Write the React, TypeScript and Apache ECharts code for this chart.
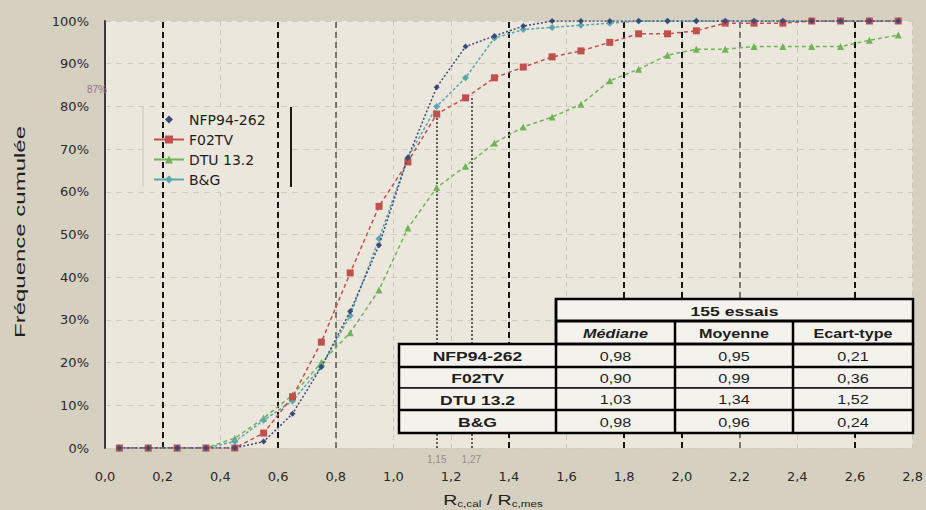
import React, { useEffect, useRef } from "react";
import * as echarts from "echarts";

// ---- data ----
const xCenters = [0.05, 0.15, 0.25, 0.35, 0.45, 0.55, 0.65, 0.75, 0.85, 0.95, 1.05, 1.15, 1.25, 1.35, 1.45, 1.55, 1.65, 1.75, 1.85, 1.95, 2.05, 2.15, 2.25, 2.35, 2.45, 2.55, 2.65, 2.75];
const nfpValues = [0, 0, 0, 0, 0, 1.5, 8, 19, 32, 47.5, 68, 84.5, 94, 96.5, 98.8, 100, 100, 100, 100, 100, 100, 100, 100, 100, 100, 100, 100, 100];
const f02tvValues = [0, 0, 0, 0, 0, 3.5, 12, 24.8, 41, 56.6, 67, 78.2, 82, 86.7, 89.2, 91.6, 93, 95, 97, 97, 97.7, 99.5, 99.5, 99.5, 100, 100, 100, 100];
const dtuValues = [0, 0, 0, 0, 2.3, 7, 12.4, 20, 27, 37, 51.5, 61, 66, 71.4, 75.2, 77.5, 80.5, 86, 88.7, 92, 93.4, 93.4, 94, 94, 94, 94, 95.5, 96.7];
const bgValues = [0, 0, 0, 0, 1.5, 6.5, 11, 19, 31, 49, 68, 80, 86.7, 96, 98, 98.5, 99, 99.5, 100, 100, 100, 100, 100, 100, 100, 100, 100, 100];
const seriesNames = ["NFP94-262", "F02TV", "DTU 13.2", "B&G"];

const heavyRefLines = [0.2, 0.6, 1.4, 1.8, 2.0, 2.6];
const mediumRefLines = [0.8, 2.2];
const readOffX = [1.15, 1.27];
const readOffY = [78.2, 82.5];
const readOffLabels = ["1,15", "1,27"];
const highlightLabel = "87%";
const yTitle = "Fréquence cumulée";

const tableTitle = "155 essais";
const tableCols = ["Médiane", "Moyenne", "Ecart-type"];
const tableRows = ["NFP94-262", "F02TV", "DTU 13.2", "B&G"];
const medianes = ["0,98", "0,90", "1,03", "0,98"];
const moyennes = ["0,95", "0,99", "1,34", "0,96"];
const ecartTypes = ["0,21", "0,36", "1,52", "0,24"];

const FONT = "'Liberation Sans', Arial, sans-serif";
const WIDE = "'DejaVu Sans', Verdana, sans-serif";
const PLOT_BG = "#ece7dd";

function buildTable(): any[] {
  const colX = [399, 556, 675, 793, 913];
  const yT = 299;
  const yHdr = 321;
  const rowY = [344, 367, 388, 410, 433];
  const fill = "#f4f2ed";
  const els: any[] = [];
  const cell = (x0: number, y0: number, x1: number, y1: number, text: string, font: any, lw = 1.5) => {
    els.push({ type: "rect", shape: { x: x0, y: y0, width: x1 - x0, height: y1 - y0 }, style: { fill, stroke: "#111", lineWidth: lw }, z: 10 });
    els.push({
      type: "text",
      x: (x0 + x1) / 2,
      y: (y0 + y1) / 2 + 1,
      scaleX: 1.35,
      style: { text, align: "center", verticalAlign: "middle", fill: "#1e1e1e", fontFamily: FONT, ...font },
      z: 11,
    });
  };
  cell(colX[1], yT, colX[4], yHdr, tableTitle, { fontSize: 13, fontWeight: "bold" });
  tableCols.forEach((c, i) =>
    cell(colX[i + 1], yHdr, colX[i + 2], rowY[0], c, { fontSize: 12, fontStyle: i === 0 ? "italic" : "normal", fontWeight: "bold" })
  );
  const cols = [medianes, moyennes, ecartTypes];
  tableRows.forEach((r, ri) => {
    cell(colX[0], rowY[ri], colX[1], rowY[ri + 1], r, { fontSize: 13, fontWeight: "bold" });
    cols.forEach((col, ci) => cell(colX[ci + 1], rowY[ri], colX[ci + 2], rowY[ri + 1], col[ri], { fontSize: 12 }));
  });
  els.push({ type: "rect", shape: { x: colX[1], y: yT, width: colX[4] - colX[1], height: rowY[0] - yT }, style: { fill: "none", stroke: "#000", lineWidth: 2.5 }, z: 12 });
  els.push({ type: "rect", shape: { x: colX[0], y: rowY[0], width: colX[4] - colX[0], height: rowY[4] - rowY[0] }, style: { fill: "none", stroke: "#000", lineWidth: 2.5 }, z: 12 });
  els.push({ type: "line", shape: { x1: colX[1], y1: yHdr, x2: colX[4], y2: yHdr }, style: { stroke: "#000", lineWidth: 3 }, z: 12 });
  els.push({ type: "line", shape: { x1: colX[0], y1: rowY[1], x2: colX[4], y2: rowY[1] }, style: { stroke: "#000", lineWidth: 2.5 }, z: 12 });
  els.push({ type: "line", shape: { x1: colX[0], y1: rowY[3], x2: colX[4], y2: rowY[3] }, style: { stroke: "#000", lineWidth: 2.5 }, z: 12 });
  [1, 2, 3].forEach((c) =>
    els.push({ type: "line", shape: { x1: colX[c], y1: c === 1 ? yT : yHdr, x2: colX[c], y2: rowY[4] }, style: { stroke: "#000", lineWidth: 2.5 }, z: 12 })
  );
  return els;
}

export default function App() {
  const ref = useRef<HTMLDivElement>(null);
  useEffect(() => {
    document.body.style.margin = "0";
    const chart = echarts.init(ref.current!, null, { renderer: "svg" });
    const mk = (vals: number[]) => xCenters.map((x, i) => [x, vals[i]]);
    const lineBase = { type: "line", showSymbol: true, z: 5 };
    const option: any = {
      animation: false,
      backgroundColor: "#d6d0c1",
      grid: { left: 105, right: 13, top: 21, bottom: 62, show: true, backgroundColor: PLOT_BG, borderWidth: 0 },
      legend: {
        orient: "vertical",
        left: 153,
        top: 112,
        padding: 0,
        itemWidth: 30,
        itemHeight: 10,
        itemGap: 5,
        z: 6,
        textStyle: { fontSize: 14, lineHeight: 15, color: "#1e1e1e", fontFamily: WIDE },
        lineStyle: { type: "solid" },
        data: [
          { name: seriesNames[0], lineStyle: { opacity: 0 } },
          { name: seriesNames[1] },
          { name: seriesNames[2] },
          { name: seriesNames[3] },
        ],
      },
      xAxis: {
        type: "value",
        min: 0,
        max: 2.8,
        interval: 0.2,
        axisLine: { show: false },
        axisTick: { show: false },
        axisLabel: { margin: 22, fontSize: 13, color: "#2a2a2a", fontFamily: WIDE, formatter: (v: number) => v.toFixed(1).replace(".", ",") },
        splitLine: { show: true, lineStyle: { color: "#cdc7bb", type: [5, 4], width: 1 } },
      },
      yAxis: {
        type: "value",
        min: 0,
        max: 100,
        interval: 10,
        axisLine: { show: true, lineStyle: { color: "#3a3a3a", width: 2 } },
        axisTick: { show: false },
        axisLabel: { margin: 16, fontSize: 13, color: "#2a2a2a", fontFamily: WIDE, formatter: (v: number) => v + "%" },
        splitLine: { show: true, lineStyle: { color: "#d2ccc0", type: [6, 5], width: 1 } },
      },
      series: [
        {
          type: "line",
          name: "refs",
          data: [],
          z: 2,
          silent: true,
          markLine: {
            silent: true,
            symbol: ["none", "none"],
            label: { show: false },
            lineStyle: { color: "#151515", width: 2, type: [6, 4] },
            data: [
              ...heavyRefLines.map((v) => ({ xAxis: v })),
              ...mediumRefLines.map((v) => ({ xAxis: v, lineStyle: { color: "#555", width: 1.5, type: [6, 4] } })),
              ...readOffX.map((v, i) => [
                {
                  coord: [v, 0],
                  lineStyle: { color: "#333", width: 1.5, type: [2, 2] },
                  label: { show: true, position: "start", formatter: readOffLabels[i], color: "#9a8a8e", fontSize: 10, fontFamily: FONT, distance: 6 },
                },
                { coord: [v, readOffY[i]] },
              ]),
            ],
          },
        },
        {
          ...lineBase,
          name: seriesNames[0],
          data: mk(nfpValues),
          symbol: "diamond",
          symbolSize: 6,
          itemStyle: { color: "#3d4a78" },
          lineStyle: { color: "#3d4a78", width: 1.5, type: [2, 2] },
          z: 8,
        },
        {
          ...lineBase,
          name: seriesNames[1],
          data: mk(f02tvValues),
          symbol: "rect",
          symbolSize: 7,
          itemStyle: { color: "#c0504d" },
          lineStyle: { color: "#c0504d", width: 1.5, type: [4, 3] },
          z: 7,
        },
        {
          ...lineBase,
          name: seriesNames[2],
          data: mk(dtuValues),
          symbol: "triangle",
          symbolSize: 7,
          itemStyle: { color: "#72b35a" },
          lineStyle: { color: "#72b35a", width: 1.5, type: [4, 3] },
          z: 6,
        },
        {
          ...lineBase,
          name: seriesNames[3],
          data: mk(bgValues),
          symbol: "diamond",
          symbolSize: 7,
          itemStyle: { color: "#5aa7ae" },
          lineStyle: { color: "#5aa7ae", width: 1.5, type: [3, 2] },
          z: 6,
        },
      ],
      graphic: [
        { type: "rect", shape: { x: 143, y: 107, width: 148, height: 80 }, style: { fill: PLOT_BG }, z: 3 },
        { type: "line", shape: { x1: 291, y1: 107, x2: 291, y2: 187 }, style: { stroke: "#1a1a1a", lineWidth: 2 }, z: 4 },
        { type: "line", shape: { x1: 143, y1: 107, x2: 143, y2: 187 }, style: { stroke: "#cbc5b8", lineWidth: 1 }, z: 4 },
        { type: "text", x: 87, y: 84, style: { text: highlightLabel, fill: "#9a6f8e", fontSize: 10, fontFamily: FONT }, z: 20 },
        {
          type: "text",
          x: 20,
          y: 232,
          rotation: Math.PI / 2,
          scaleX: 1.6,
          style: { text: yTitle, align: "center", verticalAlign: "middle", fill: "#1e1e1e", fontSize: 15, fontFamily: FONT },
          z: 20,
        },
        {
          type: "text",
          x: 493,
          y: 500,
          scaleX: 1.3,
          style: {
            text: "{a|R}{b|c,cal}{a| / R}{b|c,mes}",
            align: "center",
            verticalAlign: "middle",
            rich: {
              a: { fontSize: 15, fontFamily: FONT, fill: "#222", color: "#222" },
              b: { fontSize: 9, fontFamily: FONT, fill: "#222", color: "#222", padding: [8, 0, 0, 0] },
            },
          },
          z: 20,
        },
        ...buildTable(),
      ],
    };
    chart.setOption(option);
    return () => chart.dispose();
  }, []);
  return <div ref={ref} style={{ width: 926, height: 510 }} />;
}
